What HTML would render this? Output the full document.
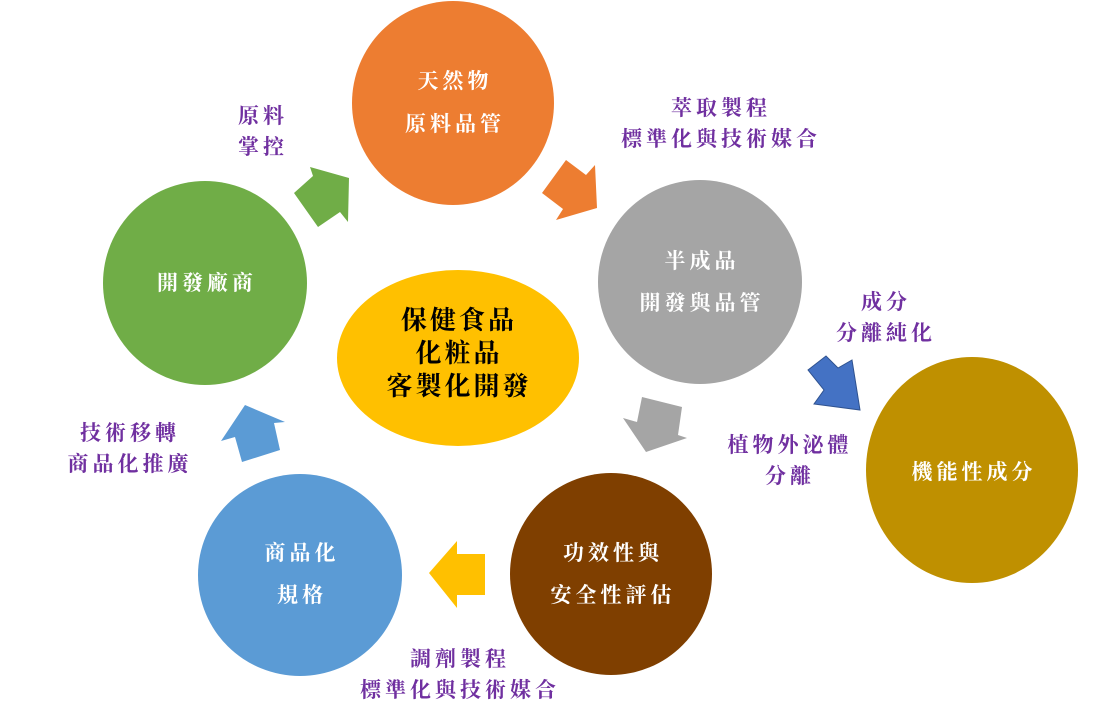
<!DOCTYPE html>
<html><head><meta charset="utf-8"><style>
html,body{margin:0;padding:0;background:#fff;}
svg{display:block;}
text{font-family:"Liberation Serif","Noto Serif CJK SC","Noto Sans CJK TC",serif;text-anchor:middle;}
.w{fill:#fff;font-size:21px;letter-spacing:4px;font-weight:bold;}
.p{fill:#7030a0;font-size:21px;font-weight:bold;letter-spacing:4px;}
.c{fill:#000;font-size:26px;font-weight:bold;letter-spacing:3px;}
</style></head><body>
<svg width="1093" height="713" viewBox="0 0 1093 713">
<ellipse cx="453" cy="103" rx="101" ry="102" fill="#ed7d31"/>
<ellipse cx="700" cy="282" rx="102" ry="102" fill="#a5a5a5"/>
<ellipse cx="972" cy="470" rx="106" ry="113" fill="#bf9000"/>
<ellipse cx="611" cy="574" rx="101" ry="101" fill="#7f3f00"/>
<ellipse cx="300" cy="575" rx="102" ry="101" fill="#5b9bd5"/>
<ellipse cx="205" cy="283" rx="102" ry="102" fill="#70ad47"/>
<ellipse cx="458" cy="358" rx="121" ry="88" fill="#ffc000"/>

<polygon points="294,193 313,176 310,167 349,178 348,222 340,212 318,227" fill="#70ad47"/>
<polygon points="566,160 586,175 595,165 597,208 556,220 563,209 542,193" fill="#ed7d31"/>
<polygon points="642,397 682,407 678,435 687,438 646,452 623,418 637,422" fill="#a5a5a5"/>
<polygon points="245,405 285,422 274,423 280,450 242,462 235,437 221,441" fill="#5b9bd5"/>
<polygon points="457,541 457,554 485,554 485,595 457,595 457,608 429,573" fill="#ffc000"/>
<polygon points="808,370 826,356 838,368 852,360 860,410 814,404 824,390" fill="#4472c4" stroke="#2f528f" stroke-width="1"/>

<text class="w" x="455" y="88">天然物</text>
<text class="w" x="455" y="131">原料品管</text>
<text class="w" x="702" y="268">半成品</text>
<text class="w" x="702" y="310">開發與品管</text>
<text class="w" x="974" y="479">機能性成分</text>
<text class="w" x="613" y="560">功效性與</text>
<text class="w" x="613" y="602">安全性評估</text>
<text class="w" x="302" y="560">商品化</text>
<text class="w" x="302" y="602">規格</text>
<text class="w" x="207" y="290">開發廠商</text>
<text class="c" x="459" y="329">保健食品</text>
<text class="c" x="459" y="362">化粧品</text>
<text class="c" x="459" y="395">客製化開發</text>

<text class="p" x="263" y="123">原料</text>
<text class="p" x="263" y="154">掌控</text>
<text class="p" x="721" y="115">萃取製程</text>
<text class="p" x="721" y="146">標準化與技術媒合</text>
<text class="p" x="886" y="309">成分</text>
<text class="p" x="886" y="340">分離純化</text>
<text class="p" x="790" y="452">植物外泌體</text>
<text class="p" x="790" y="483">分離</text>
<text class="p" x="130" y="440">技術移轉</text>
<text class="p" x="130" y="471">商品化推廣</text>
<text class="p" x="460" y="666">調劑製程</text>
<text class="p" x="460" y="697">標準化與技術媒合</text>
</svg>
</body></html>
